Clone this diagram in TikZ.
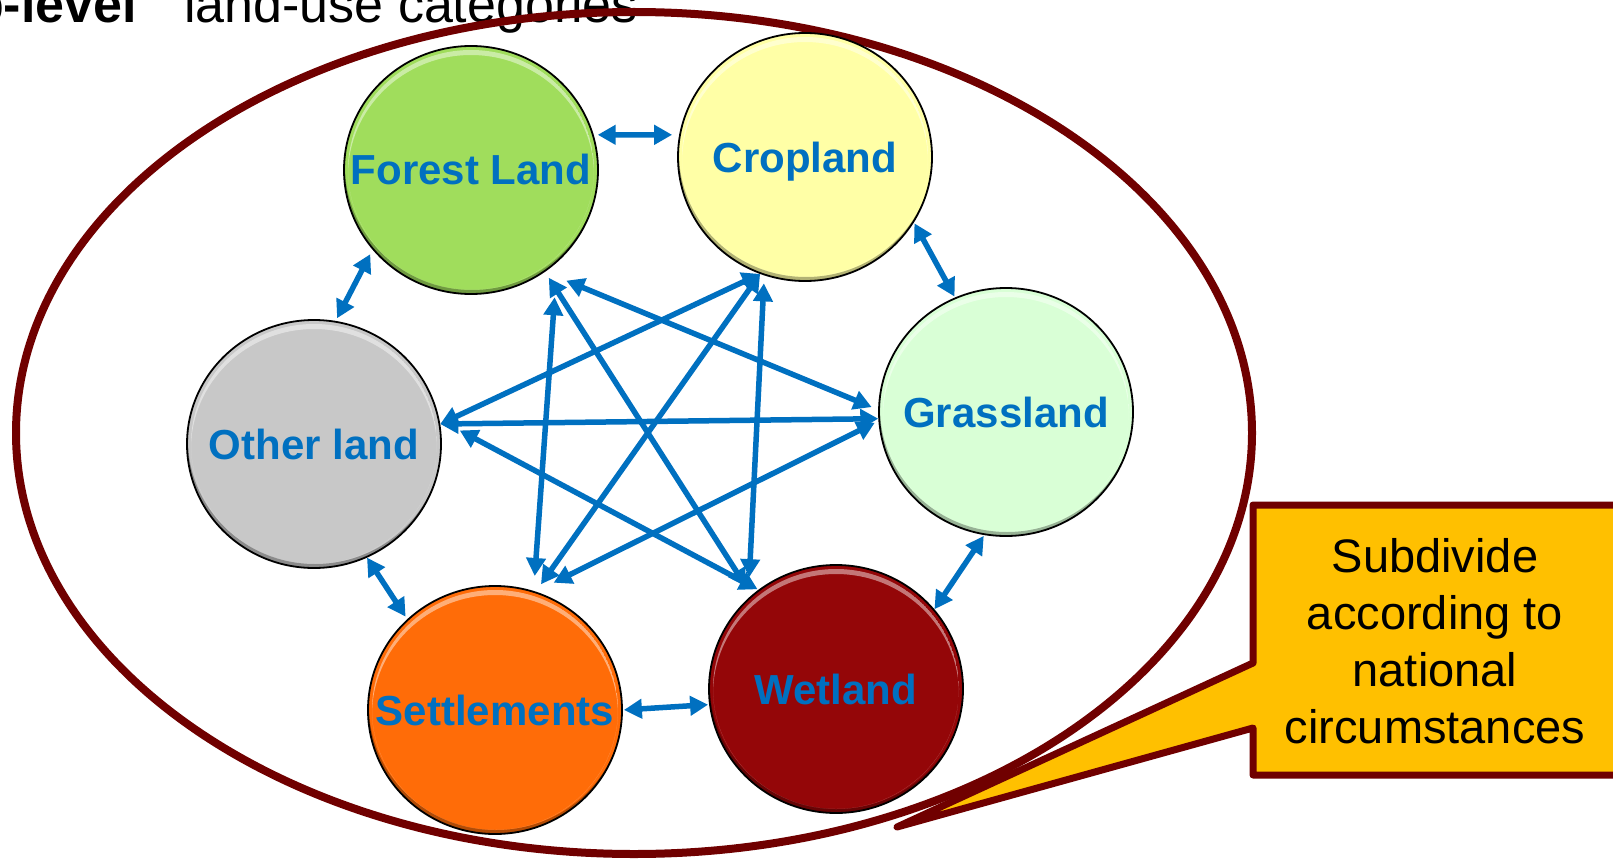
\documentclass[tikz,border=0pt]{standalone}
\usepackage{fontspec}
\setmainfont{Liberation Sans}
\usetikzlibrary{shapes.geometric,arrows.meta}
\definecolor{lublue}{RGB}{0,112,192}
\definecolor{ellred}{RGB}{112,0,0}
\definecolor{callfill}{RGB}{255,192,0}
\definecolor{forestc}{RGB}{160,221,92}
\definecolor{cropc}{RGB}{255,255,166}
\definecolor{grassc}{RGB}{217,255,214}
\definecolor{otherc}{RGB}{200,200,200}
\definecolor{settc}{RGB}{255,108,8}
\definecolor{wetc}{RGB}{148,6,8}
\newcommand\lufont{\fontsize{42pt}{50pt}\selectfont\bfseries}
\newcommand\zb[1]{\makebox[0pt]{#1}}
\begin{document}
\begin{tikzpicture}[x=1pt,y=-1pt,
  land/.style={ellipse, minimum width=254pt, minimum height=248pt, inner sep=0pt,
    draw=black, line width=1.8pt, font=\lufont, text=lublue,
    text height=30pt, text depth=0pt,
    path picture={
      \begin{scope}
        \clip (path picture bounding box.center) ellipse (123pt and 120pt);
        \fill[white, opacity=0.45, even odd rule]
          (path picture bounding box.center) ellipse (123pt and 120pt)
          ([yshift=-5pt]path picture bounding box.center) ellipse (123pt and 120pt);
      \end{scope}
      \begin{scope}
        \clip (path picture bounding box.center) ellipse (127pt and 124pt);
        \fill[black, opacity=0.3, even odd rule]
          (path picture bounding box.center) ellipse (127pt and 124pt)
          ([yshift=4pt,xshift=1pt]path picture bounding box.center) ellipse (127pt and 124pt);
      \end{scope}
    }},
  arr/.style={color=lublue, line width=5.5pt,
    arrows={Triangle[length=18pt,width=19pt]-Triangle[length=18pt,width=19pt]}},
  calltxt/.style={align=center, inner sep=0pt, font=\fontsize{47pt}{57pt}\selectfont}
]
\useasboundingbox (0,0) rectangle (1613,861);
\clip (0,0) rectangle (1613,861);
\fill[white] (0,0) rectangle (1613,861);

% title (clipped at the top, as in the reference)
\node[anchor=base east, inner sep=0pt, font=\fontsize{52pt}{60pt}\selectfont\bfseries] (title1) at (137,23) {Top-level};
\node[anchor=base west, inner sep=0pt, font=\fontsize{52pt}{60pt}\selectfont] (title2) at (184,23) {land-use categories};

% big ellipse
\draw[ellred, line width=8pt] (634,433) ellipse (618 and 421);

% callout
\draw[ellred, line width=7pt, fill=callfill, line join=round]
  (1253,505) -- (1640,505) -- (1640,775) -- (1253,775) -- (1253,728) -- (897,827) -- (1253,663) -- cycle;
\node[calltxt] (calltext) at (1435,641) {Subdivide\\according to\\national\\circumstances};

% land-use circles
\node[land, fill=forestc] (F) at (471,170) {\zb{Forest Land}};
\node[land, fill=cropc]   (C) at (805,157) {\zb{Cropland}};
\node[land, fill=grassc]  (G) at (1006,412) {\zb{Grassland}};
\node[land, fill=wetc]    (W) at (836,689) {\zb{Wetland}};
\node[land, fill=settc]   (S) at (495,710) {\zb{Settlements}};
\node[land, fill=otherc]  (O) at (314,444) {\zb{Other land}};

% neighbour arrows
\draw[arr, shorten <=4pt, shorten >=7pt] (F.16) -- (C.170);
\draw[arr, shorten <=1pt, shorten >=1pt] (C.-31) -- (G.114);
\draw[arr, shorten <=1pt] (G.-100) -- (W.39);
\draw[arr, shorten <=1pt, shorten >=1pt] (S.0) -- (W.187);
\draw[arr, shorten >=3pt] (O.-65) -- (S.134);
\draw[arr, shorten <=3pt, shorten >=5pt] (O.80) -- (F.219);

% star arrows
\draw[arr, shorten <=23pt, shorten >=7pt] (F.-54) -- (G.179);
\draw[arr, shorten <=7pt, shorten >=10pt] (F.-54) -- (W.132);
\draw[arr, shorten <=35pt, shorten >=15pt] (F.-47) -- (S.72);
\draw[arr] (C.-111) -- (O.9);
\draw[arr, shorten >=9pt] (C.-111) -- (S.71);
\draw[arr, shorten <=8pt, shorten >=21pt] (C.-109) -- (W.134);
\draw[arr] (O.9) -- (G.183);
\draw[arr, shorten <=23pt, shorten >=1pt] (O.11) -- (W.128);
\draw[arr, shorten <=20pt, shorten >=4pt] (S.71) -- (G.184);
\end{tikzpicture}
\end{document}
